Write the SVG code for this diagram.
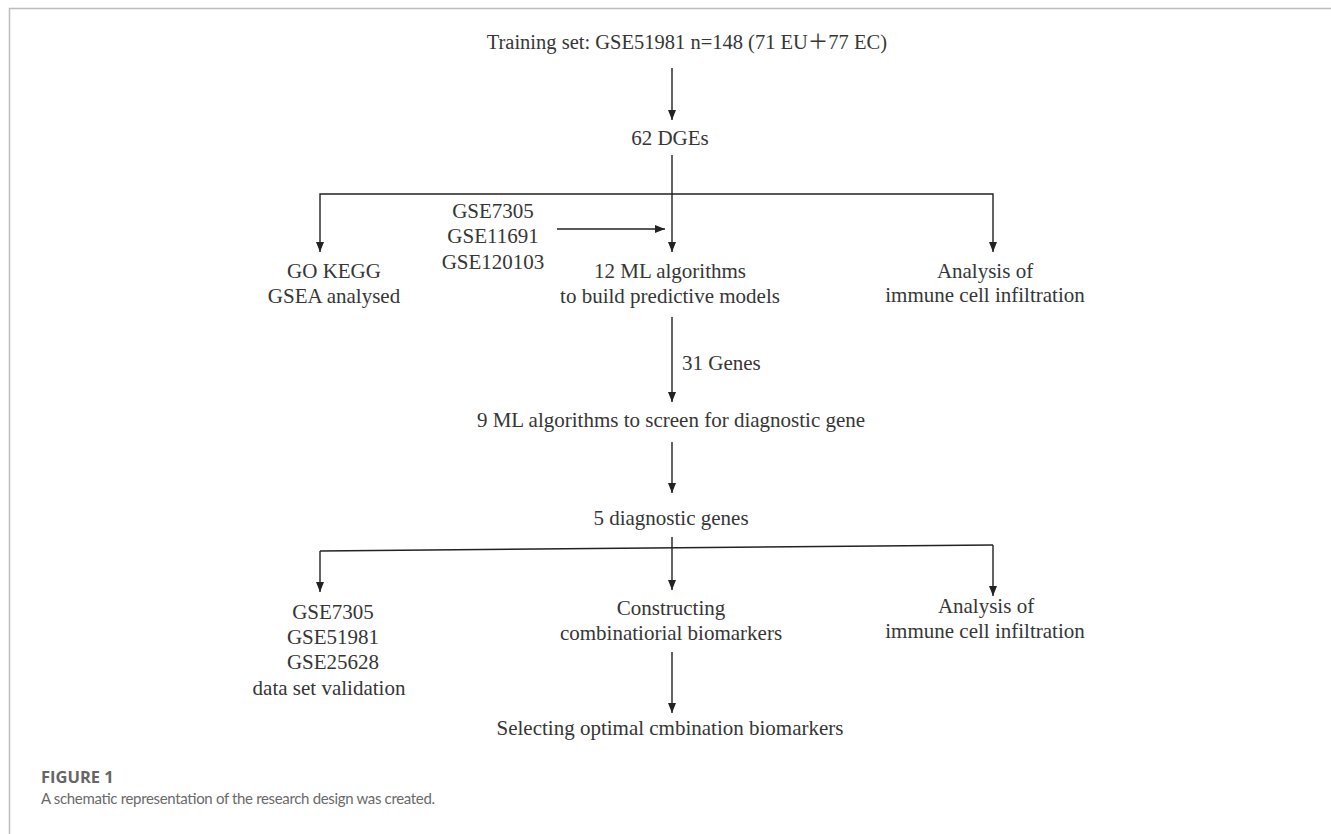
<svg xmlns="http://www.w3.org/2000/svg" width="1331" height="834" viewBox="0 0 1331 834">
  <style>
    .t { font-family: "Liberation Serif", "Noto Sans CJK SC", serif; font-size: 21px; fill: #363636; text-anchor: middle; }
    .l { text-anchor: start; }
    .e { text-anchor: end; }
    .c { stroke: #222; stroke-width: 1.4; fill: none; }
    .frame { stroke: #bdbdbd; stroke-width: 1.5; fill: none; }
    .cap1 { font-family: "Open Sans", "Liberation Sans", sans-serif; font-weight: bold; font-size: 16.5px; fill: #666; }
    .cap2 { font-family: "Lato", "Liberation Sans", sans-serif; font-size: 15px; fill: #6a6a6a; }
  </style>
  <defs>
    <marker id="arr" markerUnits="userSpaceOnUse" markerWidth="10" markerHeight="8" refX="10" refY="4" orient="auto">
      <path d="M0,0 L10,4 L0,8 z" fill="#222"/>
    </marker>
  </defs>
  <rect width="1331" height="834" fill="#fff"/>
  <path class="frame" d="M1331,8.5 H9.5 V834"/>

  <g id="connectors">
    <path class="c" d="M672,68 V120" marker-end="url(#arr)"/>
    <path class="c" d="M672,155 V194 H320 V252" marker-end="url(#arr)"/>
    <path class="c" d="M672,194 H993 V252" marker-end="url(#arr)"/>
    <path class="c" d="M672,194 V252" marker-end="url(#arr)"/>
    <path class="c" d="M557,229 H665" marker-end="url(#arr)"/>
    <path class="c" d="M672,317 V402" marker-end="url(#arr)"/>
    <path class="c" d="M672,442 V493" marker-end="url(#arr)"/>
    <path class="c" d="M672,537 V548"/>
    <path class="c" d="M320,551 L993,545"/>
    <path class="c" d="M320,551 V592" marker-end="url(#arr)"/>
    <path class="c" d="M672,548 V590" marker-end="url(#arr)"/>
    <path class="c" d="M993,545 V596" marker-end="url(#arr)"/>
    <path class="c" d="M672,652 V713" marker-end="url(#arr)"/>
    <text class="t l" x="682" y="370">31 Genes</text>
  </g>

  <g id="training">
    <text class="t e" x="887" y="49" style="font-size:20.5px">Training set: GSE51981 n=148 (71 EU＋77 EC)</text>
  </g>
  <g id="dges">
    <text class="t" x="670" y="145">62 DGEs</text>
  </g>
  <g id="gokegg">
    <text class="t" x="334" y="278">GO KEGG</text>
    <text class="t" x="334" y="303">GSEA analysed</text>
  </g>
  <g id="gse-external">
    <text class="t" x="493" y="218">GSE7305</text>
    <text class="t" x="493" y="243">GSE11691</text>
    <text class="t" x="493" y="269">GSE120103</text>
  </g>
  <g id="ml12">
    <text class="t" x="670" y="278">12 ML algorithms</text>
    <text class="t" x="670" y="303">to build predictive models</text>
  </g>
  <g id="immune1">
    <text class="t" x="985" y="278">Analysis of</text>
    <text class="t" x="985" y="302">immune cell infiltration</text>
  </g>
  <g id="ml9">
    <text class="t" x="671" y="427">9 ML algorithms to screen for diagnostic gene</text>
  </g>
  <g id="diag5">
    <text class="t" x="671" y="525">5 diagnostic genes</text>
  </g>
  <g id="validation">
    <text class="t" x="333" y="619">GSE7305</text>
    <text class="t" x="333" y="644">GSE51981</text>
    <text class="t" x="333" y="669">GSE25628</text>
    <text class="t" x="329" y="695">data set validation</text>
  </g>
  <g id="constructing">
    <text class="t" x="671" y="615">Constructing</text>
    <text class="t" x="671" y="640">combinatiorial biomarkers</text>
  </g>
  <g id="immune2">
    <text class="t" x="986" y="613">Analysis of</text>
    <text class="t" x="985" y="638">immune cell infiltration</text>
  </g>
  <g id="selecting">
    <text class="t" x="670" y="735">Selecting optimal cmbination biomarkers</text>
  </g>

  <g id="caption">
    <text class="cap1" x="41" y="783">FIGURE 1</text>
    <text class="cap2" x="41" y="804" textLength="394" lengthAdjust="spacing">A schematic representation of the research design was created.</text>
  </g>
</svg>
